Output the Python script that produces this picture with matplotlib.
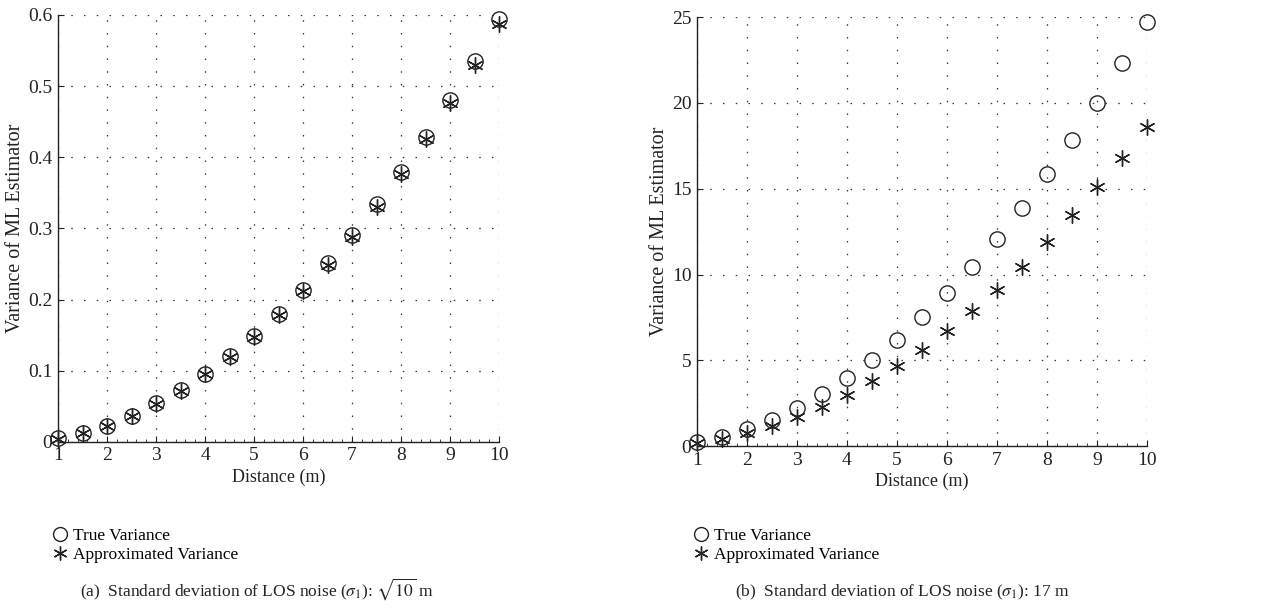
import matplotlib
matplotlib.use("Agg")
import matplotlib.pyplot as plt
from matplotlib.lines import Line2D
from matplotlib.ticker import MultipleLocator

plt.rcParams['font.family'] = ['Liberation Serif', 'DejaVu Serif']
plt.rcParams['mathtext.fontset'] = 'stix'

distance = [1, 1.5, 2, 2.5, 3, 3.5, 4, 4.5, 5, 5.5, 6, 6.5, 7, 7.5, 8, 8.5, 9, 9.5, 10]

# (a) sigma_1 = sqrt(10) m
true_a = [0.005, 0.013, 0.023, 0.037, 0.054, 0.073, 0.096, 0.121, 0.149, 0.180,
          0.214, 0.251, 0.291, 0.334, 0.380, 0.429, 0.481, 0.536, 0.594]
approx_a = [0.004, 0.012, 0.022, 0.036, 0.053, 0.072, 0.095, 0.119, 0.147, 0.178,
            0.212, 0.248, 0.288, 0.330, 0.376, 0.425, 0.476, 0.530, 0.588]

# (b) sigma_1 = 17 m
true_b = [0.25, 0.55, 1.0, 1.55, 2.25, 3.05, 3.95, 5.0, 6.2, 7.5,
          8.9, 10.45, 12.1, 13.9, 15.85, 17.85, 20.0, 22.3, 24.7]
approx_b = [0.19, 0.42, 0.75, 1.17, 1.68, 2.3, 3.0, 3.78, 4.65, 5.6,
            6.7, 7.85, 9.1, 10.45, 11.9, 13.45, 15.1, 16.8, 18.6]

yticks_a = [0, 0.1, 0.2, 0.3, 0.4, 0.5, 0.6]
yticks_b = [0, 5, 10, 15, 20, 25]
xticks = list(range(1, 11))

fig = plt.figure(figsize=(12.73, 6.12), dpi=100)
ax_a = fig.add_axes([0.0456, 0.278, 0.3464, 0.6975])
ax_b = fig.add_axes([0.5475, 0.271, 0.3535, 0.701])

ink = '#222222'
star = (6, 2, 0)


def style_axes(ax, yticks, ylabels):
    ax.set_xlim(1, 10)
    ax.set_ylim(yticks[0], yticks[-1])
    ax.set_xticks(xticks)
    ax.set_yticks(yticks)
    ax.set_yticklabels(ylabels)
    ax.xaxis.set_minor_locator(MultipleLocator(0.2))
    ax.tick_params(which='major', direction='in', length=4, width=0.8,
                   labelsize=14, colors=ink, pad=4)
    ax.tick_params(which='minor', direction='in', length=2, width=0.6, colors=ink)
    ax.tick_params(axis='y', which='minor', left=False)
    for side in ('top', 'right'):
        ax.spines[side].set_visible(False)
    for side in ('left', 'bottom'):
        ax.spines[side].set_linewidth(1.0)
        ax.spines[side].set_color(ink)
    ax.grid(True, which='major', linestyle=(0, (1.2, 9)), color='#333333', linewidth=0.9)
    ax.set_axisbelow(True)
    ax.set_xlabel('Distance (m)', fontsize=13, color=ink, labelpad=3)
    ax.set_ylabel('Variance of ML Estimator', fontsize=14.5, color=ink, labelpad=2)


def draw_series(ax, y_true, y_approx):
    ax.plot(distance, y_true, linestyle='none', marker='o', markersize=11,
            markerfacecolor='none', markeredgecolor=ink, markeredgewidth=1.0,
            clip_on=False, zorder=3)
    ax.plot(distance, y_approx, linestyle='none', marker=star, markersize=11.5,
            markeredgecolor=ink, markeredgewidth=1.0, clip_on=False, zorder=3)


style_axes(ax_a, yticks_a, ['0', '0.1', '0.2', '0.3', '0.4', '0.5', '0.6'])
draw_series(ax_a, true_a, approx_a)
style_axes(ax_b, yticks_b, [str(v) for v in yticks_b])
draw_series(ax_b, true_b, approx_b)

handles = [
    Line2D([], [], linestyle='none', marker='o', markersize=10, markerfacecolor='none',
           markeredgecolor=ink, markeredgewidth=1.0, label='True Variance'),
    Line2D([], [], linestyle='none', marker=star, markersize=10,
           markeredgecolor=ink, markeredgewidth=1.0, label='Approximated Variance'),
]
for x0 in (0.0415, 0.5455):
    fig.legend(handles=handles, loc='upper left', bbox_to_anchor=(x0, 0.138),
               frameon=False, fontsize=12.5, handlelength=0.8, handletextpad=0.35,
               labelspacing=0.2, borderaxespad=0, borderpad=0)

fig.text(0.202, 0.026, r'(a)  Standard deviation of LOS noise ($\sigma_1$): $\sqrt{10}$ m',
         ha='center', fontsize=12.5, color=ink)
fig.text(0.709, 0.026, r'(b)  Standard deviation of LOS noise ($\sigma_1$): 17 m',
         ha='center', fontsize=12.5, color=ink)

fig.savefig('out.png', dpi=100, facecolor='white')
